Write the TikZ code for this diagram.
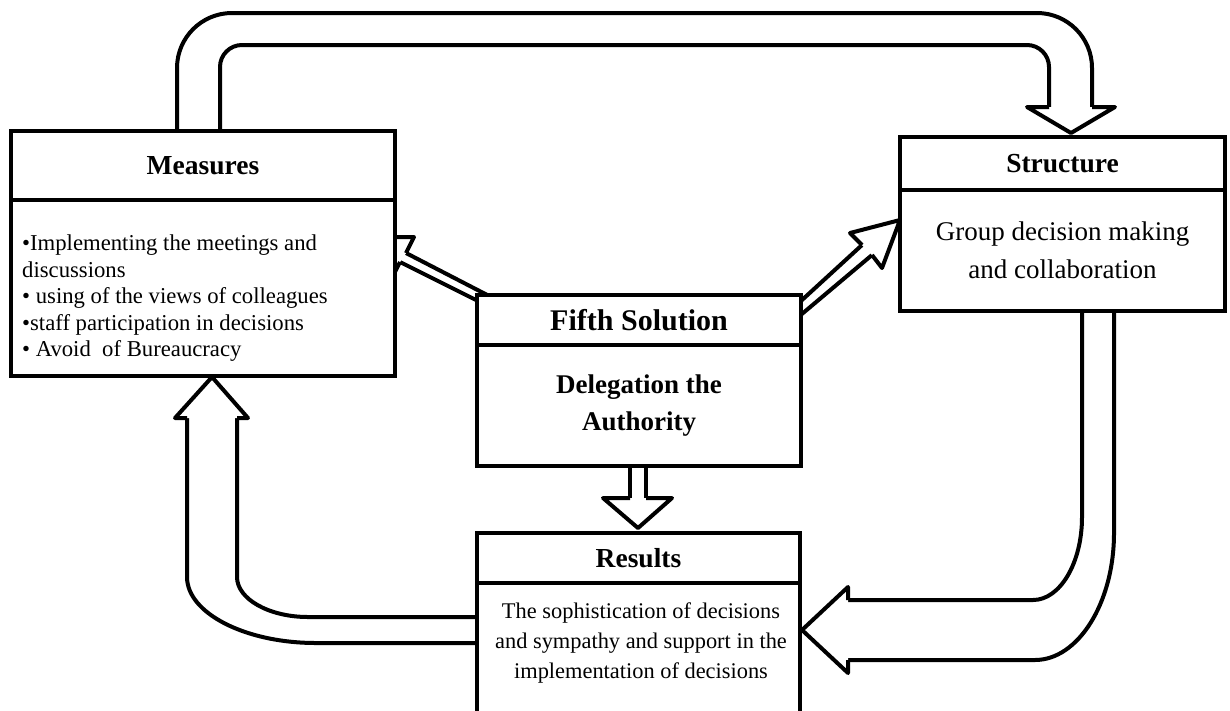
\documentclass[tikz,border=0pt]{standalone}
\usepackage{fontspec}
\setmainfont{Liberation Serif}
\usepackage{tikz}
\usetikzlibrary{arrows}

\begin{document}
\begin{tikzpicture}[x=1pt,y=-1pt]
\tikzset{box/.style={rectangle,draw,line width=4pt,fill=white,inner sep=0pt}}
\tikzstyle{hd} =[font=\fontsize{27.5}{30}\selectfont\bfseries]
\tikzstyle{fat} =[line width=4pt,line join=round]
\tikzstyle{head} =[line width=4pt,line join=round,fill=white]

\useasboundingbox (0,0) rectangle (1230,710);

% block arrows
\draw[fat,rounded corners=55] (177,140) -- (177,13) -- (1092,13) -- (1092,107);
\draw[fat,rounded corners=22] (220,140) -- (220,45) -- (1049,45) -- (1049,107);
\draw[head] (1049,107) -- (1027,107) -- (1071,133) -- (1115,107) -- (1092,107);

\draw[fat] (1082,300) -- (1082,517) .. controls (1082,563) and (1060,600) .. (1033,600) -- (848,600);
\draw[fat] (1114,300) -- (1114,533) .. controls (1114,603) and (1078,660) .. (1035,660) -- (848,660);
\draw[head] (848,600) -- (848,587) -- (802,630) -- (848,673) -- (848,660);

\draw[fat] (490,617) -- (308,617) .. controls (269,617) and (237,599) .. (237,577) -- (237,418);
\draw[fat] (490,643) -- (316,643) .. controls (245,643) and (187,613) .. (187,577) -- (187,418);
\draw[head] (237,418) -- (248,418) -- (212,377) -- (175,418) -- (187,418);

\draw[fat] (630,450) -- (630,498);
\draw[fat] (646,450) -- (646,498);
\draw[head] (630,498) -- (603,498) -- (638,528) -- (672,498) -- (646,498);

\draw[fat] (495,299) -- (406,253);
\draw[fat] (494,309) -- (400,262);
\draw[head] (406,253) -- (414,237) -- (363,237) -- (392,278) -- (400,262);

\draw[fat] (790,311) -- (862,245);
\draw[fat] (790,324) -- (872,255);
\draw[head] (862,245) -- (850,233) -- (900,220) -- (882,268) -- (872,255);

% boxes
\node[box,minimum width=384,minimum height=176](ms1) at (203,288){};
\node[box,hd,minimum width=384,minimum height=69](ms) at (203,165.5){Measures};
\node[anchor=west,align=left,inner sep=0pt,font=\fontsize{22.7}{26.5}\selectfont](ms2) at (22,298.5)
 {•Implementing the meetings and\\discussions\\• using of the views of colleagues\\•staff participation in decisions\\• Avoid\ \ of Bureaucracy};

\node[box,align=center,minimum width=324,minimum height=121,font=\fontsize{27}{37}\selectfont\bfseries](fs1) at (639,405.5){Delegation the\\Authority};
\node[box,minimum width=324,minimum height=50,font=\fontsize{30}{32}\selectfont\bfseries](fs) at (639,320){Fifth Solution};

\node[box,minimum width=323,minimum height=147](rs1) at (638.5,656.5){};
\node[box,hd,minimum width=323,minimum height=50](rs) at (638.5,558){Results};
\node[align=center,inner sep=0pt,font=\fontsize{22.4}{30}\selectfont](rs2) at (641,643)
 {The sophistication of decisions\\and sympathy and support in the\\implementation of decisions};

\node[box,align=center,minimum width=325,minimum height=121,font=\fontsize{27}{37.5}\selectfont](st1) at (1062.5,250.5){Group decision making\\and collaboration};
\node[box,hd,minimum width=325,minimum height=53](st) at (1062.5,163.5){Structure};
\end{tikzpicture}
\end{document}
